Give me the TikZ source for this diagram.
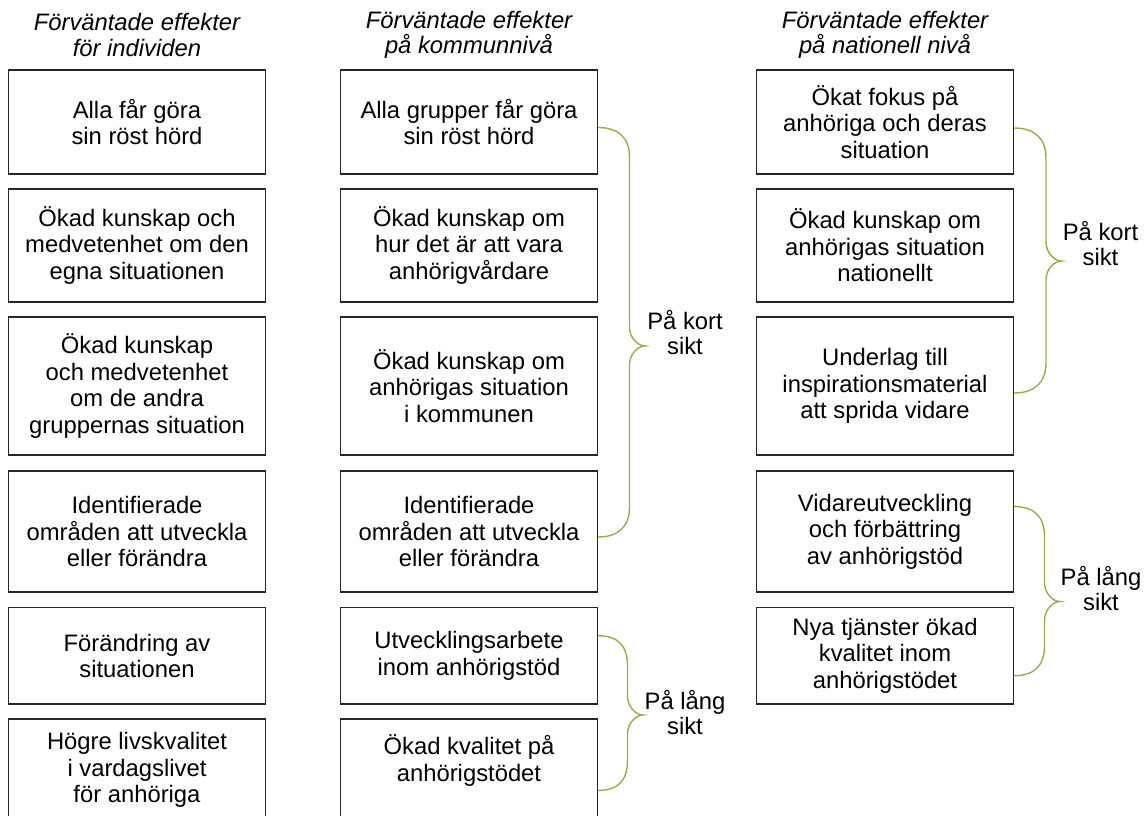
\documentclass[tikz,border=0pt]{standalone}
\usepackage{fontspec}
\setmainfont{Liberation Sans}
\usetikzlibrary{calc}

\definecolor{braceolive}{RGB}{168,163,78}

\newcommand{\boxfont}{\fontsize{23.8}{26.5}\selectfont}

\tikzstyle{effect} = [
rectangle,
minimum width=257pt,
inner sep=0pt,
align=center,
draw=black!85,
line width=1.1pt
]
\tikzstyle{heading} = [
align=center,
font=\fontsize{23.8}{25}\selectfont\itshape
]
\tikzstyle{term} = [
align=center,
font=\fontsize{23.8}{25}\selectfont
]
\tikzstyle{brace} = [
draw=braceolive,
line width=1.4pt
]

% curly brace: top end, bottom end, tip
\newcommand{\klammer}[3]{%
  \draw[brace] let \p1=(#1), \p2=(#2), \p3=(#3) in
    (\p1) .. controls (\x1+20pt,\y1) and (\x3-15.5pt,\y1-10pt) .. (\x3-15.5pt,\y1-30pt)
    -- (\x3-15.5pt,\y3+19pt) .. controls (\x3-15.5pt,\y3+8pt) and (\x3-7pt,\y3) .. (\p3)
    .. controls (\x3-7pt,\y3) and (\x3-15.5pt,\y3-8pt) .. (\x3-15.5pt,\y3-19pt)
    -- (\x3-15.5pt,\y2+30pt) .. controls (\x3-15.5pt,\y2+10pt) and (\x1+20pt,\y2) .. (\p2);}

\begin{document}
\begin{tikzpicture}[
x=1pt,
y=-1pt,
font=\boxfont
]
\useasboundingbox (0,0) rectangle (1144,816);

% Headings
\node (hInd) [heading] at (137,35) {Förväntade effekter\\för individen};
\node (hKom) [heading] at (469,35) {Förväntade effekter\\på kommunnivå};
\node (hNat) [heading] at (885,35) {Förväntade effekter\\på nationell nivå};

% Individen
\node (ind1) [effect, minimum height=104pt] at (137,122) {Alla får göra\\sin röst hörd};
\node (ind2) [effect, minimum height=113pt] at (137,245.5) {Ökad kunskap och\\medvetenhet om den\\egna situationen};
\node (ind3) [effect, minimum height=138pt] at (137,386) {Ökad kunskap\\och medvetenhet\\om de andra\\gruppernas situation};
\node (ind4) [effect, minimum height=121pt] at (137,531.5) {Identifierade\\områden att utveckla\\eller förändra};
\node (ind5) [effect, minimum height=96.5pt] at (137,655.75) {Förändring av\\situationen};
\node (ind6) [effect, minimum height=102pt] at (137,770) {Högre livskvalitet\\i vardagslivet\\för anhöriga};

% Kommunnivå
\node (kom1) [effect, minimum height=104pt] at (469,122) {Alla grupper får göra\\sin röst hörd};
\node (kom2) [effect, minimum height=113pt] at (469,245.5) {Ökad kunskap om\\hur det är att vara\\anhörigvårdare};
\node (kom3) [effect, minimum height=138pt] at (469,386) {Ökad kunskap om\\anhörigas situation\\i kommunen};
\node (kom4) [effect, minimum height=121pt] at (469,531.5) {Identifierade\\områden att utveckla\\eller förändra};
\node (kom5) [effect, minimum height=96.5pt] at (469,655.75) {Utvecklingsarbete\\inom anhörigstöd};
\node (kom6) [effect, minimum height=102pt, text depth=24pt] at (469,770) {Ökad kvalitet på\\anhörigstödet};

% Nationell nivå
\node (nat1) [effect, minimum height=104pt] at (885,122) {Ökat fokus på\\anhöriga och deras\\situation};
\node (nat2) [effect, minimum height=113pt] at (885,245.5) {Ökad kunskap om\\anhörigas situation\\nationellt};
\node (nat3) [effect, minimum height=138pt] at (885,386) {Underlag till\\inspirationsmaterial\\att sprida vidare};
\node (nat4) [effect, minimum height=121pt] at (885,531.5) {Vidareutveckling\\och förbättring\\av anhörigstöd};
\node (nat5) [effect, minimum height=96.5pt] at (885,655.75) {Nya tjänster ökad\\kvalitet inom\\anhörigstödet};

% Terms
\node (kortKom) [term] at (685,333) {På kort\\sikt};
\node (langKom) [term] at (685,713) {På lång\\sikt};
\node (kortNat) [term] at (1100.5,244) {På kort\\sikt};
\node (langNat) [term] at (1101,589) {På lång\\sikt};

\coordinate (tipKortKom) at (645,346);
\coordinate (tipLangKom) at (643,715);
\coordinate (tipKortNat) at (1061.5,261);
\coordinate (tipLangNat) at (1060,601.5);

% Braces
\klammer{[yshift=-5.5pt]kom1.east}{[yshift=-5.5pt]kom4.east}{tipKortKom}
\klammer{[yshift=20pt]kom5.east}{[yshift=-20.5pt]kom6.east}{tipLangKom}
\klammer{[yshift=-6pt]nat1.east}{[yshift=-7pt]nat3.east}{tipKortNat}
\klammer{[yshift=25pt]nat4.east}{[yshift=-20pt]nat5.east}{tipLangNat}

\end{tikzpicture}
\end{document}
